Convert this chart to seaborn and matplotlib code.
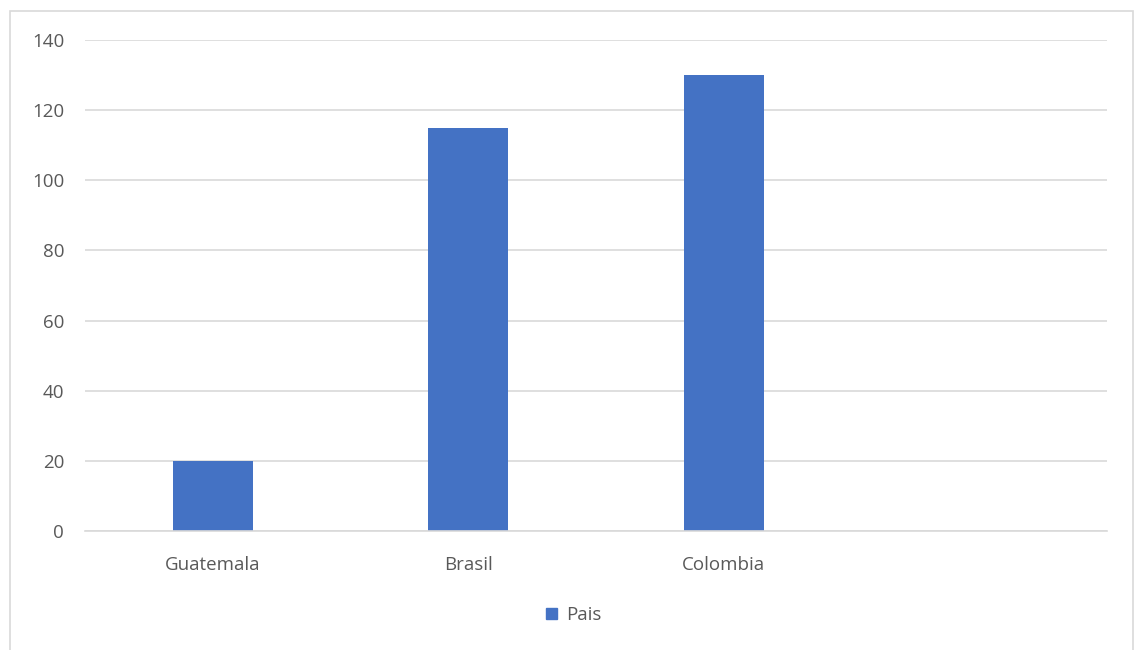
import matplotlib
matplotlib.use("Agg")
import matplotlib.pyplot as plt
import seaborn as sns
import pandas as pd
from matplotlib.patches import Rectangle, Patch

categories = ["Guatemala", "Brasil", "Colombia"]
values = [20, 115, 130]
series_name = "Pais"
yticks = [0, 20, 40, 60, 80, 100, 120, 140]

sns.set_style("white")
plt.rcParams['font.family'] = ['Open Sans', 'DejaVu Sans']

W, H = 1136, 650
FS = 13.5
fig = plt.figure(figsize=(W / 100, H / 100), dpi=100)
ax = fig.add_axes([85 / W, 1 - 531 / H, (1107 - 85) / W, (531 - 40) / H])

df = pd.DataFrame({"cat": categories, "val": values})
sns.barplot(data=df, x="cat", y="val", color="#4472C4", saturation=1,
            width=0.313, linewidth=0, ax=ax)
ax.set_xlim(-0.5, 3.5)
ax.set_ylim(0, 140)
ax.set_yticks(yticks)
ax.yaxis.grid(True, color="#D9D9D9", linewidth=1.2)
ax.set_axisbelow(True)
for s in ["top", "right", "left"]:
    ax.spines[s].set_visible(False)
ax.spines["bottom"].set_color("#D9D9D9")
ax.spines["bottom"].set_linewidth(1.2)
ax.tick_params(axis="both", length=0, labelsize=FS, colors="#595959")
ax.tick_params(axis="x", pad=18)
ax.tick_params(axis="y", pad=15)
ax.set_xlabel("")
ax.set_ylabel("")

leg = fig.legend(handles=[Patch(color="#4472C4", label=series_name)],
                 loc="center", bbox_to_anchor=(574 / W, 1 - 615 / H),
                 frameon=False, fontsize=FS, handlelength=0.55,
                 handleheight=0.55, handletextpad=0.5)
for t in leg.get_texts():
    t.set_color("#595959")

fig.patches.append(Rectangle((9.5 / W, -0.1), (1133 - 9.5) / W, 1.1 - 10.5 / H,
                             transform=fig.transFigure, fill=False,
                             edgecolor="#D9D9D9", linewidth=1.2))

fig.savefig("out.png", dpi=100, facecolor="white")
